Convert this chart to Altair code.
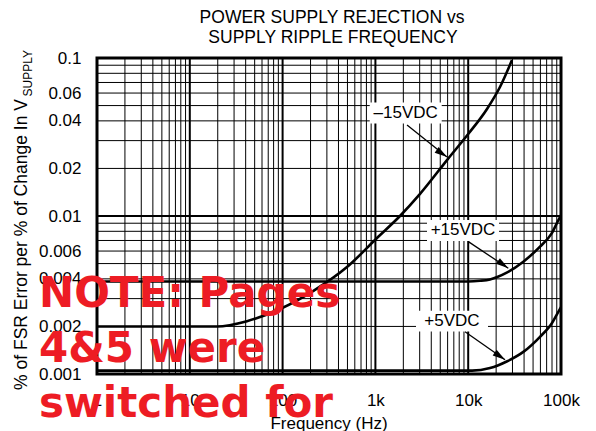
import altair as alt
import pandas as pd

# ---------------- data ----------------
# -15VDC curve
m15_freq = [1, 19.6, 41.3, 93.8, 213, 494, 1040, 1841, 3027, 6058, 10200, 15950, 22000, 29650]
m15_val = [0.002, 0.002, 0.00216, 0.00258, 0.00335, 0.00475, 0.00726, 0.0100, 0.0138,
           0.0230, 0.0335, 0.0476, 0.0655, 0.0971]
# +15VDC curve
p15_freq = [1, 10000, 13400, 17180, 26000, 39260, 59400, 79400, 95900, 100000]
p15_val = [0.00385, 0.00385, 0.00389, 0.00397, 0.00438, 0.00514, 0.0064, 0.00777, 0.00967, 0.0101]
# +5VDC curve
p5_freq = [1, 11000, 17180, 26000, 39260, 59400, 79400, 95900, 100000]
p5_val = [0.00105, 0.00105, 0.00109, 0.0012, 0.00138, 0.00172, 0.00209, 0.00254, 0.00265]

# annotations (in data units)
ann_text = ["\u201315VDC", "+15VDC", "+5VDC"]
ann_freq = [2122, 8790, 6690]
ann_val = [0.0449, 0.0081, 0.00216]
arrow_from_freq = [2193, 10030, 9245]
arrow_from_val = [0.0377, 0.00688, 0.00185]
arrow_to_freq = [5912, 27040, 24940]
arrow_to_val = [0.0236, 0.00467, 0.00123]

# axes
x_major = [1, 10, 100, 1000, 10000, 100000]
y_major = [0.001, 0.01, 0.1]
y_labels = [0.1, 0.06, 0.04, 0.02, 0.01, 0.006, 0.004, 0.002, 0.001]
minor_mult = [2, 3, 4, 5, 6, 7, 8, 9]

title_lines = ["POWER SUPPLY REJECTION vs", "SUPPLY RIPPLE FREQUENCY"]
y_title = "% of FSR Error per % of Change In V"
y_title_sub = "SUPPLY"
x_title = "Frequency (Hz)"
note_lines = ["NOTE: Pages", "4&5 were", "switched for"]

# ---------------- tables ----------------
x_minor = [d * m for d in x_major[:-1] for m in minor_mult]
y_minor = [d * m for d in y_major[:-1] for m in minor_mult]

curves = pd.concat([
    pd.DataFrame({"f": m15_freq, "v": m15_val, "s": "m15"}),
    pd.DataFrame({"f": p15_freq, "v": p15_val, "s": "p15"}),
    pd.DataFrame({"f": p5_freq, "v": p5_val, "s": "p5"}),
])
ann = pd.DataFrame({"t": ann_text, "f": ann_freq, "v": ann_val,
                    "f0": arrow_from_freq, "v0": arrow_from_val,
                    "f1": arrow_to_freq, "v1": arrow_to_val})

FONT = "Liberation Sans"
x_scale = alt.Scale(type="log", domain=[1, 100000])
y_scale = alt.Scale(type="log", domain=[0.001, 0.1])

x_axis = alt.Axis(values=x_major,
                  labelExpr="datum.value >= 1000 ? format(datum.value / 1000, 'd') + 'k' : format(datum.value, 'd')",
                  ticks=False, domain=False, grid=False, labelFont=FONT, labelFontSize=17,
                  labelColor="black", labelPadding=18, labelFlush=False, labelOverlap=False,
                  title=None)
y_axis = alt.Axis(values=y_labels, format="~g", ticks=False, domain=False, grid=False,
                  labelFont=FONT, labelFontSize=17, labelColor="black", labelPadding=16,
                  labelFlush=False, labelOverlap=False, title=None)


def X(field):
    return alt.X(field, type="quantitative", scale=x_scale, axis=x_axis)


def Y(field):
    return alt.Y(field, type="quantitative", scale=y_scale, axis=y_axis)


# grid
gx_minor = alt.Chart(pd.DataFrame({"f": x_minor})).mark_rule(color="black", strokeWidth=1).encode(x=X("f"))
gy_minor = alt.Chart(pd.DataFrame({"v": y_minor})).mark_rule(color="black", strokeWidth=1).encode(y=Y("v"))
gx_major = alt.Chart(pd.DataFrame({"f": x_major})).mark_rule(color="black", strokeWidth=2).encode(x=X("f"))
gy_major = alt.Chart(pd.DataFrame({"v": y_major})).mark_rule(color="black", strokeWidth=2).encode(y=Y("v"))

# white boxes behind annotation labels
boxes = alt.Chart(ann).mark_point(shape="M-1,-0.29L1,-0.29L1,0.29L-1,0.29Z", filled=True,
                                  color="white", opacity=1, size=72 * 72).encode(x=X("f"), y=Y("v"))

lines = alt.Chart(curves).mark_line(color="black", strokeWidth=2.6, interpolate="monotone").encode(
    x=X("f"), y=Y("v"), detail="s:N")

arrows = alt.Chart(ann).mark_rule(color="black", strokeWidth=1.3).encode(
    x=X("f0"), x2="f1:Q", y=Y("v0"), y2="v1:Q")
heads = alt.Chart(ann).mark_point(shape="M0,0L-2,-0.55L-2,0.55Z", filled=True, color="black",
                                  opacity=1, size=160, angle=35).encode(x=X("f1"), y=Y("v1"))

labels = alt.Chart(ann).mark_text(font=FONT, fontSize=17, color="black", align="center",
                                  baseline="middle").encode(x=X("f"), y=Y("v"), text="t:N")


def static_text(txt, x, y, **kw):
    return alt.Chart(pd.DataFrame({"t": [txt]})).mark_text(**kw).encode(
        x=alt.value(x), y=alt.value(y), text="t:N")


title1 = static_text(title_lines[0], 235, -35, font=FONT, fontSize=17.5,
                     color="black", align="center", baseline="alphabetic")
title2 = static_text(title_lines[1], 236, -15, font=FONT, fontSize=17.5,
                     color="black", align="center", baseline="alphabetic")
ytitle = static_text(y_title, -70, 186.5, font=FONT, fontSize=17.5, color="black",
                     align="center", baseline="alphabetic", angle=270)
ytitle_sub = static_text(y_title_sub, -65, 15.3, font=FONT, fontSize=12, color="black",
                         align="center", baseline="alphabetic", angle=270)
xtitle = static_text(x_title, 232, 371, font=FONT, fontSize=17, color="black",
                     align="center", baseline="alphabetic")

note_kw = dict(font="DejaVu Sans", fontWeight="bold", fontSize=42, color="#ed1c24",
               align="left", baseline="alphabetic")
note1 = static_text(note_lines[0], -58, 248.7, **note_kw)
note2 = static_text(note_lines[1], -58, 303.7, **note_kw)
note3 = static_text(note_lines[2], -58, 358.7, **note_kw)

chart = alt.layer(
    gx_minor, gy_minor, gx_major, gy_major, boxes, lines, arrows, heads, labels,
    title1, title2, ytitle, ytitle_sub, xtitle, note1, note2, note3
).properties(
    width=464, height=316,
    autosize=alt.AutoSizeParams(type="none"),
    padding={"left": 89, "top": 50, "right": 27, "bottom": 57},
).configure_view(stroke="black", strokeWidth=3)

chart.save("out.html", embed_options={"renderer": "svg", "actions": False})
